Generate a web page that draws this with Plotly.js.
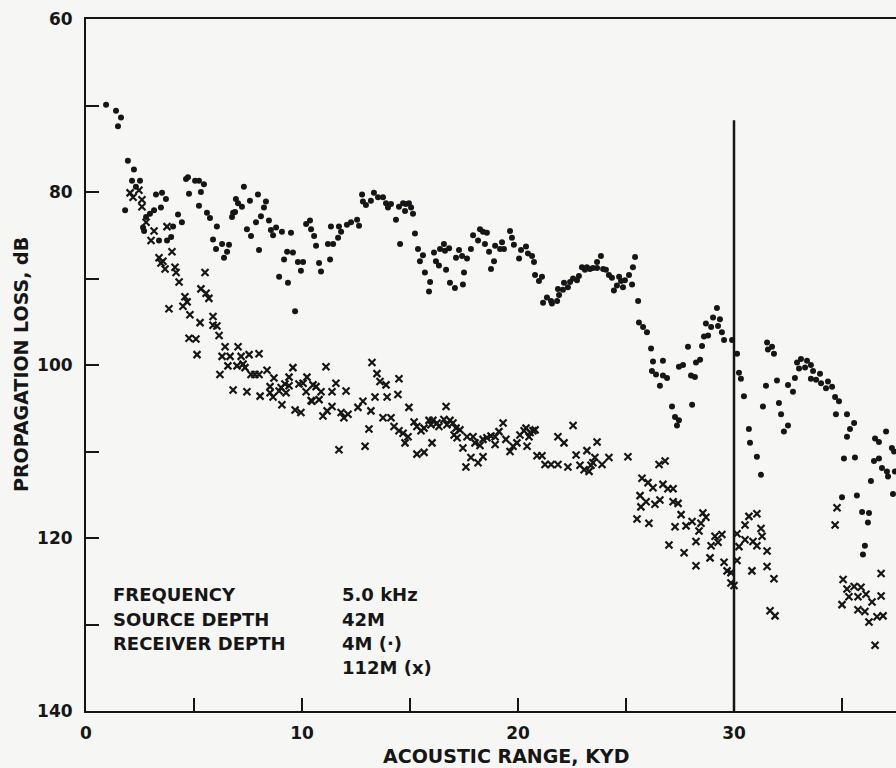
<!DOCTYPE html>
<html>
<head>
<meta charset="utf-8">
<script src="https://cdn.plot.ly/plotly-3.0.1.min.js"></script>
<style>html,body{margin:0;padding:0;background:#f6f6f4;}#chart{width:896px;height:768px;}</style>
</head>
<body>
<div id="chart"></div>
<script>
// Receiver depth 4 m (dots): range (kyd) and propagation loss (dB)
var dotRange = [0.93,1.39,1.62,1.48,1.94,2.22,2.13,2.50,2.31,1.81,3.24,3.52,3.70,3.15,3.47,2.96,2.78,2.64,2.69,3.38,4.03,3.94,3.75,4.26,4.44,4.63,4.72,5.05,5.23,5.46,5.32,4.77,5.23,5.60,5.74,6.06,5.88,6.02,6.30,6.62,6.53,6.39,6.94,7.04,7.31,7.22,6.81,6.76,6.90,7.59,7.96,8.33,8.24,8.10,7.87,7.45,7.64,8.01,8.47,8.56,8.66,8.80,9.07,9.49,9.31,9.58,9.17,9.81,10.05,9.95,8.94,9.35,9.68,10.19,10.37,10.42,10.56,10.65,10.79,10.88,11.34,11.20,11.44,11.30,11.67,11.81,11.71,12.08,12.27,12.55,12.64,12.78,12.82,12.96,13.19,13.33,13.52,13.75,13.89,13.98,14.12,14.35,14.49,14.68,14.81,14.95,15.05,14.77,15.14,14.54,15.23,15.37,15.60,15.46,15.69,15.93,15.88,16.11,16.20,16.34,16.67,16.39,16.57,16.62,16.81,16.85,17.08,17.27,17.13,17.41,17.64,17.50,17.45,17.82,17.92,18.15,18.24,18.38,18.56,18.47,18.66,18.89,18.75,18.94,19.17,19.26,19.35,19.63,19.72,19.81,20.05,20.14,20.37,20.46,20.65,20.74,20.79,20.97,21.11,21.16,21.34,21.53,21.57,21.81,21.90,21.85,22.08,22.13,22.31,22.41,22.55,22.73,22.82,22.96,23.10,23.19,23.33,23.47,23.66,23.66,23.84,23.94,24.07,24.21,24.35,24.44,24.58,24.68,24.77,24.86,24.95,25.14,25.28,25.32,25.42,25.56,25.60,25.79,25.97,26.16,26.25,26.20,26.39,26.57,26.71,26.71,26.90,27.13,27.27,27.45,27.36,27.45,27.64,27.87,28.01,28.19,28.06,28.24,28.43,28.52,28.61,28.80,28.70,29.03,28.94,29.21,29.26,29.35,29.44,29.54,29.91,30.14,30.23,30.32,30.46,30.69,30.74,31.06,31.25,31.34,31.48,31.53,31.57,31.76,31.85,31.99,32.08,32.18,32.31,32.50,32.50,32.73,32.82,32.92,33.01,33.10,33.29,33.38,33.56,33.56,33.66,33.80,33.98,34.03,34.26,34.35,34.54,34.68,34.86,34.72,35.23,35.37,35.23,35.56,35.09,35.60,35.00,35.69,35.93,36.25,36.20,36.06,35.97,36.34,36.48,36.71,36.53,36.71,37.04,36.85,37.08,37.13,37.31,37.41,37.45,37.36];
var dotLoss = [69.9,70.6,71.4,72.4,76.4,77.4,78.7,78.7,79.4,82.1,80.3,80.1,80.8,82.1,81.8,82.5,82.9,84.1,84.5,85.6,84.0,85.2,85.6,82.6,83.5,78.5,78.3,78.7,78.7,79.1,80.0,80.2,81.6,82.4,83.0,84.0,85.5,86.6,86.0,86.1,86.9,87.6,80.8,81.3,79.4,81.7,82.4,82.9,82.3,81.0,80.3,81.1,81.8,82.8,83.5,84.3,85.1,86.7,83.3,84.4,85.0,84.1,84.6,84.7,86.9,87.0,87.8,88.1,88.1,89.1,89.8,90.5,93.8,83.7,83.3,84.3,85.1,86.2,88.2,89.2,84.0,86.0,86.0,87.8,85.3,84.6,84.0,83.8,83.5,83.2,83.9,80.3,81.1,81.5,81.0,80.1,80.6,80.6,81.3,81.8,81.4,83.2,81.7,81.3,81.4,81.3,81.8,82.2,82.5,86.0,84.8,86.6,87.3,88.0,89.3,90.4,91.5,87.0,88.0,88.5,89.0,86.6,86.0,86.8,86.5,90.5,91.1,86.7,87.6,87.4,87.7,89.3,90.7,86.6,85.0,85.6,84.3,84.6,84.7,86.0,86.9,88.0,88.9,86.2,86.6,85.8,86.6,84.5,85.3,86.1,87.7,86.7,86.3,87.1,87.4,88.1,89.6,90.3,89.8,92.8,92.2,92.6,92.9,92.6,91.9,91.2,91.3,90.5,91.0,90.4,90.0,90.2,89.7,88.7,89.0,88.7,88.9,88.8,88.1,88.8,87.4,88.9,89.0,89.6,89.9,91.4,90.8,89.8,90.3,91.0,90.2,89.6,90.7,88.7,87.5,92.6,95.1,95.6,96.2,98.1,99.6,100.7,101.1,102.4,99.5,101.2,101.5,104.8,106.0,106.4,107.0,100.2,100.0,97.9,101.2,101.4,104.6,99.7,99.4,97.8,96.7,96.6,95.2,94.5,95.6,93.4,95.5,94.7,96.2,97.1,97.1,98.7,100.9,101.6,103.6,107.4,109.0,110.6,112.7,104.8,102.4,97.4,98.2,97.9,98.7,101.8,104.4,105.7,107.7,107.0,102.3,103.1,101.5,99.7,100.4,99.3,100.3,99.5,100.0,101.6,100.7,101.7,101.0,102.1,102.7,101.9,102.5,103.7,104.2,105.7,105.7,107.4,108.3,106.7,110.8,110.7,115.3,115.1,117.0,117.1,118.2,120.9,121.9,113.4,111.1,110.8,108.5,108.9,107.7,111.9,112.3,112.9,109.6,110.0,112.3,114.9];

// Receiver depth 112 m (crosses)
var crossRange = [2.04,2.18,2.45,2.59,2.59,2.78,3.15,3.01,3.75,3.98,3.38,3.56,3.66,3.47,4.12,4.17,4.31,5.51,5.32,5.56,5.69,4.58,4.68,4.49,3.84,4.81,5.28,5.88,5.88,6.06,6.16,4.77,5.09,5.14,6.44,7.04,6.30,6.67,7.18,7.55,8.01,6.57,6.99,7.27,7.36,6.20,7.64,7.82,8.01,8.38,8.70,9.58,9.40,9.21,9.03,8.52,8.52,8.94,9.40,9.86,10.23,10.19,10.42,10.65,9.26,6.81,7.45,8.06,8.66,9.07,9.68,9.95,11.11,10.05,10.51,10.88,10.79,10.46,11.57,11.39,12.04,11.39,11.16,10.97,11.81,11.94,12.13,11.71,13.24,13.47,13.61,13.89,14.49,13.38,13.94,14.44,12.82,12.59,13.19,13.10,12.92,13.75,14.12,14.26,14.49,14.68,14.91,14.77,14.95,15.19,15.32,15.51,15.65,15.88,15.97,16.06,16.25,16.34,16.57,16.71,16.85,16.99,17.13,17.04,17.18,17.31,16.67,16.02,15.32,15.65,17.45,17.64,17.92,18.01,18.24,18.38,18.56,18.75,18.94,19.12,18.94,19.31,19.44,19.63,19.77,19.95,20.09,20.28,20.37,20.51,20.56,20.69,20.79,20.42,17.59,17.82,18.15,18.38,20.88,21.11,21.25,22.55,21.85,22.13,23.66,21.53,21.85,22.31,22.69,23.19,22.87,23.06,23.29,23.38,23.47,23.56,23.89,24.21,25.09,26.53,26.81,25.74,26.02,26.25,26.71,26.94,27.18,25.65,25.69,25.93,26.34,26.57,27.18,27.41,25.51,26.06,27.55,27.27,27.78,28.06,28.47,28.56,28.70,28.38,26.99,27.69,28.24,28.24,28.89,28.94,29.12,29.26,29.44,29.54,29.68,29.86,29.86,30.00,30.14,30.23,30.14,31.06,30.69,30.51,31.25,31.30,30.51,30.88,31.06,31.53,30.83,31.53,31.85,31.67,31.90,34.77,34.68,35.05,35.23,35.56,35.88,35.32,35.74,36.11,36.39,36.81,35.00,35.74,36.06,36.25,36.62,36.90,36.81,36.53];
var crossLoss = [80.1,80.6,79.8,80.9,81.7,83.5,84.5,85.6,84.0,86.9,87.6,88.0,88.9,88.2,88.7,89.3,90.4,89.3,91.2,91.7,92.3,92.1,92.7,93.2,93.5,94.2,95.1,94.4,95.4,95.5,96.6,96.9,97.0,98.8,97.9,97.9,99.0,99.0,99.0,98.8,98.7,100.1,100.1,99.9,100.3,101.1,101.1,101.1,101.1,100.6,101.5,100.3,101.4,102.2,102.6,102.5,103.2,103.0,102.4,102.2,101.4,103.1,104.1,102.5,103.2,102.9,103.1,103.6,103.7,104.6,105.2,105.5,100.2,102.1,102.3,103.1,104.0,104.2,102.1,103.1,103.0,104.8,105.3,105.9,105.5,106.1,105.7,109.8,99.7,101.0,101.9,102.3,101.6,103.7,103.7,103.4,104.2,104.9,105.3,107.4,109.4,106.1,106.1,107.1,107.6,107.9,108.3,109.0,104.9,106.6,107.1,107.6,107.3,106.4,106.9,106.4,106.7,107.1,106.3,106.9,106.4,106.7,107.3,108.1,108.4,107.5,104.8,109.0,110.3,110.1,109.6,108.3,108.3,109.0,109.3,108.6,108.4,108.2,108.3,107.7,109.2,106.7,108.6,110.0,109.4,109.0,108.1,107.6,107.3,108.3,107.8,107.6,107.5,109.4,111.8,110.7,111.3,110.6,110.5,110.5,111.5,107.0,108.3,109.0,108.9,111.5,111.5,111.8,110.4,109.9,111.6,112.1,112.3,111.6,111.3,110.7,111.5,110.7,110.6,111.5,111.1,113.1,113.6,114.2,113.8,114.3,114.3,115.1,116.4,115.8,116.1,115.6,115.8,116.0,117.8,118.3,117.3,118.7,118.6,118.1,118.3,117.1,117.6,119.2,120.8,121.7,120.4,123.2,122.3,120.9,119.8,120.5,119.6,122.8,123.8,124.0,125.2,125.5,119.5,121.0,122.6,117.2,117.5,118.5,118.9,119.8,120.2,120.4,120.9,121.5,123.8,123.3,124.7,128.4,129.0,116.5,118.5,124.8,125.9,125.6,125.7,126.8,126.8,126.5,127.4,126.7,127.7,128.3,128.5,129.7,129.1,129.0,124.1,132.4];

// Vertical reference line at 30 kyd
var refLineRange = [30, 30];
var refLineLoss = [71.7, 140];

// Tick labels
var xTickVals = [0, 5, 10, 15, 20, 25, 30, 35];
var xTickText = ['0', '', '10', '', '20', '', '30', ''];
var yTickVals = [60, 70, 80, 90, 100, 110, 120, 130, 140];
var yTickText = ['60', '', '80', '', '100', '', '120', '', '140'];

// Parameter block
var paramLabels = ['FREQUENCY', 'SOURCE DEPTH', 'RECEIVER DEPTH'];
var paramValues = ['5.0 kHz', '42M', '4M (·)', '112M (x)'];

var ink = '#161616';
var fontFam = 'DejaVu Sans, Liberation Sans, sans-serif';
function f(size) { return {family: fontFam, size: size, color: ink, weight: 'bold'}; }

var traces = [
  {x: refLineRange, y: refLineLoss, mode: 'lines', line: {color: ink, width: 2.5}, hoverinfo: 'skip'},
  {x: dotRange, y: dotLoss, mode: 'markers', name: '4M',
   marker: {symbol: 'circle', size: 6, color: ink}, cliponaxis: false},
  {x: crossRange, y: crossLoss, mode: 'markers', name: '112M',
   marker: {symbol: 'x-thin-open', size: 7, color: ink, line: {color: ink, width: 2.2}}, cliponaxis: false}
];

// plot area in pixels: x 86..896, y 19..711
var plotW = 810, plotH = 692, plotL = 86, plotB = 711;
function px(xp) { return (xp - plotL) / plotW; }
function py(yp) { return (plotB - yp) / plotH; }

var annotations = [];
var rowY = [594, 619, 643, 667];
paramLabels.forEach(function (t, i) {
  annotations.push({text: t, xref: 'paper', yref: 'paper', x: px(111), y: py(rowY[i]),
    xanchor: 'left', yanchor: 'middle', showarrow: false, font: f(18)});
});
paramValues.forEach(function (t, i) {
  annotations.push({text: t, xref: 'paper', yref: 'paper', x: px(340), y: py(rowY[i]),
    xanchor: 'left', yanchor: 'middle', showarrow: false, font: f(18)});
});
annotations.push({text: 'ACOUSTIC RANGE, KYD', xref: 'paper', yref: 'paper', x: px(506), y: py(756),
  xanchor: 'center', yanchor: 'middle', showarrow: false, font: f(19)});
annotations.push({text: 'PROPAGATION LOSS, dB', xref: 'paper', yref: 'paper', x: px(21), y: 0.5,
  xanchor: 'center', yanchor: 'middle', textangle: -90, showarrow: false, font: f(19)});

var layout = {
  width: 896, height: 768,
  margin: {l: 86, r: 0, t: 19, b: 57, pad: 0},
  paper_bgcolor: '#f6f6f4', plot_bgcolor: '#f6f6f4',
  showlegend: false,
  xaxis: {range: [0, 37.5], tickvals: xTickVals, ticktext: xTickText,
    ticks: 'inside', ticklen: 13, tickwidth: 2, tickcolor: ink,
    showline: true, linewidth: 2, linecolor: ink, mirror: true,
    showgrid: false, zeroline: false, ticklabelstandoff: 6,
    tickfont: f(17)},
  yaxis: {range: [140, 60], tickvals: yTickVals, ticktext: yTickText,
    ticks: 'inside', ticklen: 13, tickwidth: 2, tickcolor: ink,
    showline: true, linewidth: 2, linecolor: ink,
    showgrid: false, zeroline: false, ticklabelstandoff: 8,
    tickfont: f(17)},
  annotations: annotations
};

Plotly.newPlot('chart', traces, layout, {displayModeBar: false, staticPlot: true});
</script>
</body>
</html>
